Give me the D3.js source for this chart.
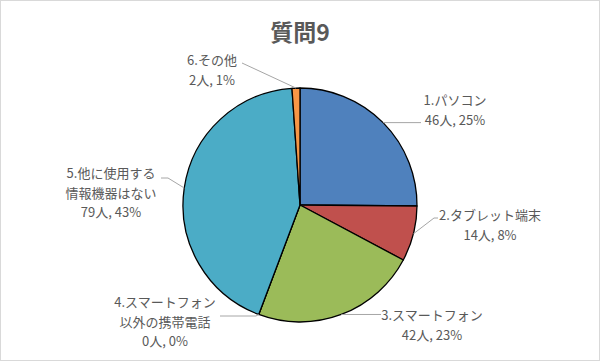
<!DOCTYPE html>
<html>
<head>
<meta charset="utf-8">
<script src="https://cdn.jsdelivr.net/npm/d3@7"></script>
<style>
body { margin: 0; background: #fff; }
text { font-family: "Noto Sans CJK JP", "Noto Sans", sans-serif; }
</style>
</head>
<body>
<div id="chart"></div>
<script>
var categories = ["1.パソコン", "2.タブレット端末", "3.スマートフォン", "4.スマートフォン\n以外の携帯電話", "5.他に使用する\n情報機器はない", "6.その他"];
var values = [46, 14, 42, 0, 79, 2];
var percents = ["25%", "8%", "23%", "0%", "43%", "1%"];
var colors = ["#4F81BD", "#C0504D", "#9BBB59", "#8064A2", "#4BACC6", "#F79646"];

// label layout: text center x, first line y, elbow x, elbow y, line end x
var labelPos = [
  [455, 105, 0, 0, 421],
  [490, 220, 434, 218, 438],
  [432, 320, 0, 0, 381],
  [165, 307, 256, 316, 220],
  [111, 178, 168, 178, 161],
  [212, 65, 0, 0, 242]
];

(function () {
var width = 600, height = 361;
var cx = 300, cy = 205, r = 117;

var svg = d3.select("#chart")
.append("svg")
.attr("width", width)
.attr("height", height)

svg.append("rect")
.attr("x", 0.5).attr("y", 0.5)
.attr("width", width - 1).attr("height", height - 1)
.attr("fill", "#fff")
.attr("stroke", "#D9D9D9")

svg.append("text")
.attr("x", 300)
.attr("y", 41)
.attr("text-anchor", "middle")
.attr("font-size", 23)
.attr("font-weight", "bold")
.attr("fill", "#595959")
.text("質問9")

var data = categories.map(function(c, i){
	return {name: c, value: values[i], pct: percents[i], color: colors[i], pos: labelPos[i]}
})

var pie = d3.pie().sort(null).value(function(d){ return d.value })
var arcs = pie(data)
var arc = d3.arc().innerRadius(0).outerRadius(r)

var g = svg.append("g").attr("transform", "translate(" + cx + "," + cy + ")")

g.selectAll(".slice")
.data(arcs)
.enter().append("path")
.attr("class", "slice")
.attr("d", arc)
.attr("fill", function(d){ return d.data.color })
.attr("stroke", "#000")
.attr("stroke-width", 1.3)
.attr("stroke-linejoin", "round")

// leader lines
arcs.forEach(function(d){
	var mid = (d.startAngle + d.endAngle) / 2
	var sx = cx + r * Math.sin(mid), sy = cy - r * Math.cos(mid)
	var p = d.data.pos
	var pts
	if (p[2]) {
		pts = [[sx, sy], [p[2], p[3]], [p[4], p[3]]]
	} else {
		pts = [[sx, sy], [p[4], sy]]
		if (d.data.name.indexOf("6.") === 0) pts = [[sx, sy], [p[4], 63]]
	}
	svg.append("path")
	.attr("d", d3.line()(pts))
	.attr("fill", "none")
	.attr("stroke", "#A6A6A6")
	.attr("stroke-width", 1)
})

// labels
arcs.forEach(function(d){
	var p = d.data.pos
	var lines = d.data.name.split("\n")
	lines.push(d.data.value + "人, " + d.data.pct)
	var t = svg.append("text")
	.attr("text-anchor", "middle")
	.attr("font-size", 13)
	.attr("fill", "#595959")
	lines.forEach(function(l, i){
		t.append("tspan")
		.attr("x", p[0])
		.attr("y", p[1] + i * 19.5)
		.text(l)
	})
})
})();
</script>
</body>
</html>
